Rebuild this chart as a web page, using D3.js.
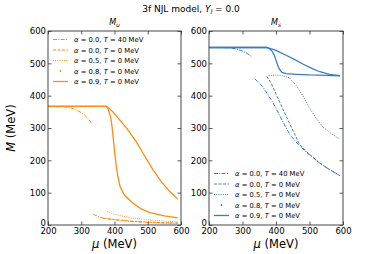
<!DOCTYPE html>
<html>
<head>
<meta charset="utf-8">
<script src="https://cdn.jsdelivr.net/npm/d3@7"></script>
<style>
  body { margin: 0; background: #fff; }
  text { font-family: "DejaVu Sans", sans-serif; fill: #000; }
</style>
</head>
<body>
<script>
// ---- data: [mu (MeV), M (MeV)] ----
// M_u panel
const u_a00_T40_hi = [[200,366],[250,365],[270,362],[290,354],[310,340],[320,330],[330,316]];
const u_a00_T40_lo = [[336,33],[350,27],[366,21],[400,16],[450,11],[500,8],[550,6],[590,5]];
const u_a00_T0_hi  = [[200,367],[366,367]];
const u_a00_T0_lo  = [[366,21],[400,17],[450,12],[500,9],[550,7],[590,6]];
const u_a05_hi     = [[200,367],[378,367]];
const u_a05_lo     = [[378,41],[400,33],[450,22],[500,16],[550,12],[590,10]];
const u_a08        = [[200,367],[376,367],[382,355],[388,335],[392,310],[396,270],[400,230],[405,185],
                      [410,150],[417,118],[430,92],[456,67],[480,50],[507,38],[550,28],[590,22]];
const u_a09        = [[200,367],[376,367],[395,350],[415,326],[440,295],[465,258],[490,215],
                      [515,172],[540,135],[565,105],[590,80]];
// M_s panel
const s_a00_T40_hi = [[200,549],[260,548],[280,545],[300,538],[315,530],[328,520]];
const s_a00_T40_lo = [[337,452],[360,428],[392,377],[420,320],[442,278],[470,245],[492,224],
                      [530,192],[560,171],[590,153]];
const s_a00_T0_hi  = [[200,549],[372,549]];
const s_a00_T0_lo  = [[372,460],[385,440],[400,405],[420,360],[440,315],[457,278],[470,250],
                      [492,226],[530,192],[560,171],[590,153]];
const s_a05_hi     = [[200,549],[378,549]];
const s_a05_lo     = [[378,462],[400,464],[420,462],[440,455],[460,432],[480,400],[500,362],
                      [520,330],[540,303],[565,283],[590,266]];
const s_a08        = [[200,549],[372,549],[380,546],[388,538],[395,525],[400,510],[405,495],
                      [410,482],[418,472],[430,468],[460,466],[500,464],[550,463],[591,461]];
const s_a09        = [[200,549],[372,549],[400,540],[430,525],[452,514],[480,498],[510,483],
                      [531,474],[560,466],[591,462]];

const legendAlpha = ["0.0", "0.0", "0.5", "0.8", "0.9"];
const legendT     = ["40", "0", "0", "0", "0"];
const xTicks = [200, 300, 400, 500, 600];
const yTicks = [0, 100, 200, 300, 400, 500, 600];

const W = 381, H = 254;
const orange = "#ff8c0f", blue = "#3a7dbd";
const styles = [
  { dash: "4,1.3,1,1.3", w: 1 },   // dash-dot
  { dash: "3,1.5", w: 1 },         // dashed
  { dash: "0.9,1.3", w: 1 },       // dotted
  { dash: null, w: 1.3, dot: true }, // points
  { dash: null, w: 1.3 }           // solid
];

const svg = d3.select("body").append("svg")
  .attr("width", W).attr("height", H);

svg.append("text").attr("x", 191).attr("y", 12).attr("text-anchor", "middle")
  .style("font-size", "9px")
  .call(t => {
    t.append("tspan").text("3f NJL model, ");
    t.append("tspan").style("font-style", "italic").text("Y");
    t.append("tspan").style("font-style", "italic").style("font-size", "6.5px").attr("dy", 2).text("l");
    t.append("tspan").attr("dy", -2).text(" = 0.0");
  });

svg.append("text")
  .attr("transform", "translate(15,128) rotate(-90)")
  .attr("text-anchor", "middle").style("font-size", "11.5px")
  .call(t => {
    t.append("tspan").style("font-style", "italic").text("M");
    t.append("tspan").text(" (MeV)");
  });

function panel(x0, x1, sub, curves, color, legendY, legendX) {
  const x = d3.scaleLinear().domain([200, 600]).range([x0, x1]);
  const y = d3.scaleLinear().domain([0, 600]).range([225, 31]);
  const g = svg.append("g");

  const line = d3.line().x(d => x(d[0])).y(d => y(d[1]));
  const clip = "clip" + x0;
  g.append("clipPath").attr("id", clip).append("rect")
    .attr("x", x0).attr("y", 31).attr("width", x1 - x0).attr("height", 194);

  curves.forEach((c, i) => {
    c.forEach(seg => {
      g.append("path").attr("d", line(seg))
        .attr("clip-path", `url(#${clip})`)
        .attr("fill", "none").attr("stroke", color)
        .attr("stroke-width", styles[i].w)
        .attr("stroke-dasharray", styles[i].dash);
    });
  });

  // frame + inward ticks on all sides
  g.append("rect").attr("x", x0).attr("y", 31).attr("width", x1 - x0).attr("height", 194)
    .attr("fill", "none").attr("stroke", "#333").attr("stroke-width", 0.9);

  const tl = 3.5;
  const ax = [
    d3.axisBottom(x).tickValues(xTicks).tickSize(-tl).tickPadding(3),
    d3.axisTop(x).tickValues(xTicks).tickSize(-tl).tickFormat(""),
    d3.axisLeft(y).tickValues(yTicks).tickSize(-tl).tickPadding(2),
    d3.axisRight(y).tickValues(yTicks).tickSize(-tl).tickFormat("")
  ];
  const tr = [`translate(0,225)`, `translate(0,31)`, `translate(${x0},0)`, `translate(${x1},0)`];
  ax.forEach((a, i) => {
    const ag = g.append("g").attr("transform", tr[i]).call(a);
    ag.select(".domain").remove();
    ag.selectAll("line").attr("stroke", "#333").attr("stroke-width", 0.8);
    ag.selectAll("text").style("font-size", "8.5px").style("font-family", "DejaVu Sans").attr("fill", "#000");
    if (i === 2) ag.selectAll("text").filter(d => d === 0).attr("dy", "0.1em");
  });

  g.append("text").attr("x", (x0 + x1) / 2).attr("y", 248).attr("text-anchor", "middle")
    .style("font-size", "11.5px")
    .call(t => {
      t.append("tspan").style("font-style", "italic").text("μ");
      t.append("tspan").text(" (MeV)");
    });

  g.append("text").attr("x", (x0 + x1) / 2).attr("y", 25).attr("text-anchor", "middle")
    .style("font-size", "8px")
    .call(t => {
      t.append("tspan").style("font-style", "italic").text("M");
      t.append("tspan").style("font-style", "italic").style("font-size", "6px").attr("dy", 2).text(sub);
    });

  // legend
  legendAlpha.forEach((a, i) => {
    const ly = legendY + i * 10.5;
    if (styles[i].dot) {
      g.append("circle").attr("cx", legendX + 7.5).attr("cy", ly).attr("r", 0.9).attr("fill", color);
    } else {
      g.append("line").attr("x1", legendX).attr("x2", legendX + 15).attr("y1", ly).attr("y2", ly)
        .attr("stroke", color).attr("stroke-width", styles[i].w)
        .attr("stroke-dasharray", styles[i].dash);
    }
    g.append("text").attr("x", legendX + 21).attr("y", ly + 2.5).style("font-size", "6.8px")
      .call(t => {
        t.append("tspan").style("font-style", "italic").text("α");
        t.append("tspan").text(" = " + a + ",  ");
        t.append("tspan").style("font-style", "italic").text("T");
        t.append("tspan").text(" = " + legendT[i] + " MeV");
      });
  });
}

panel(48, 181, "u", [
  [u_a00_T40_hi, u_a00_T40_lo],
  [u_a00_T0_hi, u_a00_T0_lo],
  [u_a05_hi, u_a05_lo],
  [u_a08],
  [u_a09]
], orange, 39.5, 53);

panel(209, 343, "s", [
  [s_a00_T40_hi, s_a00_T40_lo],
  [s_a00_T0_hi, s_a00_T0_lo],
  [s_a05_hi, s_a05_lo],
  [s_a08],
  [s_a09]
], blue, 173.5, 214);
</script>
</body>
</html>
